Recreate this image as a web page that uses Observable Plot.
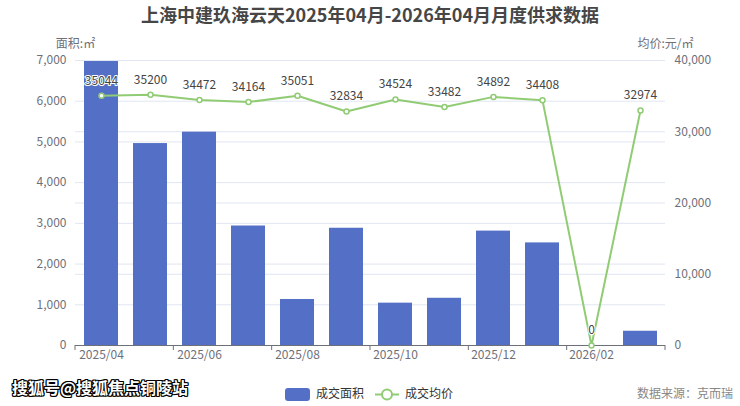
<!DOCTYPE html>
<html><head><meta charset="utf-8">
<script src="https://cdn.jsdelivr.net/npm/d3@7"></script>
<script src="https://cdn.jsdelivr.net/npm/@observablehq/plot@0.6"></script>
<style>
body{margin:0;background:#fff;}
#wrap{position:relative;width:740px;height:406px;font-family:"Noto Sans CJK SC","Noto Sans",sans-serif;}
#wrap svg{position:absolute;left:0;top:0;}
.abs{position:absolute;white-space:nowrap;line-height:1;}
</style></head>
<body><div id="wrap"></div>
<script>
const titleText = "上海中建玖海云天2025年04月-2026年04月月度供求数据";
const months = ["2025/04","2025/05","2025/06","2025/07","2025/08","2025/09","2025/10","2025/11","2025/12","2026/01","2026/02","2026/03"];
const area = [6975,4960,5240,2935,1130,2880,1040,1160,2810,2520,0,350];
const price = [35044,35200,34472,34164,35051,32834,34524,33482,34892,34408,0,32974];
const areaTicks = [0,1000,2000,3000,4000,5000,6000,7000];
const priceTicks = [0,10000,20000,30000,40000];
const xLabels = ["2025/04","2025/06","2025/08","2025/10","2025/12","2026/02"];
const seriesNames = ["成交面积","成交均价"];
const yNameLeft = "面积:㎡";
const yNameRight = "均价:元/㎡";
const sourceText = "数据来源：克而瑞";
const watermark = "搜狐号@搜狐焦点铜陵站";

const BLUE = "#5470c6", GREEN = "#91cc75", GRID = "#e0e6f1", AXIS = "#6e7079";
const k = areaTicks[areaTicks.length-1] / priceTicks[priceTicks.length-1];
const data = months.map((m,i)=>({month:m, area:area[i], price:price[i], p:price[i]*k}));
const fmt = d3.format(",");

function xTicks(index, scales, values, dims) {
  const n = months.length;
  const step = (dims.width - dims.marginLeft - dims.marginRight) / n;
  const y0 = dims.height - dims.marginBottom;
  const g = d3.create("svg:g").attr("stroke", AXIS);
  for (let i = 0; i <= n; i += 2) {
    const x = dims.marginLeft + i * step;
    g.append("line").attr("x1", x).attr("x2", x).attr("y1", y0).attr("y2", y0 + 5);
  }
  return g.node();
}

const plot = Plot.plot({
  width: 740, height: 406,
  marginTop: 60, marginBottom: 61, marginLeft: 75, marginRight: 75,
  style: {fontFamily: '"Noto Sans CJK SC","Noto Sans",sans-serif', fontSize: "12px", color: AXIS, background: "transparent", overflow: "visible"},
  x: {type: "band", domain: months, paddingInner: 0.31, paddingOuter: 0.155, axis: null, label: null},
  y: {domain: [0, 7000], axis: null, label: null},
  marks: [
    Plot.ruleY(areaTicks, {stroke: GRID}),
    Plot.ruleY(priceTicks.map(p => p * k), {stroke: GRID}),
    Plot.barY(data, {x: "month", y: "area", fill: BLUE}),
    Plot.ruleY([0], {stroke: AXIS}),
    xTicks,
    Plot.axisX(xLabels, {tickSize: 0, tickPadding: 5, fill: AXIS, fontSize: 12, label: null}),
    Plot.axisY(areaTicks, {anchor: "left", tickSize: 0, tickPadding: 9, tickFormat: fmt, fill: AXIS, fontSize: 12, label: null}),
    Plot.axisY(priceTicks.map(p => p * k), {anchor: "right", tickSize: 0, tickPadding: 9, tickFormat: d => fmt(Math.round(d / k)), fill: AXIS, fontSize: 12, label: null}),
    Plot.line(data, {x: "month", y: "p", stroke: GREEN, strokeWidth: 2}),
    Plot.dot(data, {x: "month", y: "p", r: 2.5, fill: "white", stroke: GREEN, strokeWidth: 1.5}),
    Plot.text(data, {x: "month", y: "p", text: d => String(d.price), dy: -15, fill: "#444", stroke: "white", strokeWidth: 2, fontSize: 12}),
    Plot.text([yNameLeft], {frameAnchor: "top-left", text: d => d, dy: -21, textAnchor: "middle", fill: AXIS, fontSize: 12}),
    Plot.text([yNameRight], {frameAnchor: "top-right", text: d => d, dy: -21, textAnchor: "middle", fill: AXIS, fontSize: 12})
  ]
});

const wrap = document.getElementById("wrap");
wrap.appendChild(plot);

function addDiv(text, css) {
  const d = document.createElement("div");
  d.className = "abs";
  d.textContent = text;
  Object.assign(d.style, css);
  wrap.appendChild(d);
  return d;
}
addDiv(titleText, {left: "0", width: "740px", textAlign: "center", top: "5px", fontSize: "18px", fontWeight: "bold", color: "#464646"});
addDiv(watermark, {left: "12px", top: "379px", fontSize: "16px", fontWeight: "bold", color: "#fff",
  textShadow: "1px 0 0 #000,-1px 0 0 #000,0 1px 0 #000,0 -1px 0 #000,1px 1px 0 #000,-1px -1px 0 #000,1px -1px 0 #000,-1px 1px 0 #000"});
addDiv(sourceText, {right: "7px", top: "387px", fontSize: "12px", color: "#888"});

// legend
const leg = d3.select(wrap).append("svg").attr("width", 740).attr("height", 406).style("pointer-events", "none")
  .style("font-family", '"Noto Sans CJK SC",sans-serif').style("font-size", "12px");
leg.append("rect").attr("x", 285).attr("y", 388).attr("width", 25).attr("height", 13).attr("rx", 3).attr("fill", BLUE);
leg.append("text").attr("x", 316).attr("y", 394.5).attr("dominant-baseline", "middle").attr("fill", "#333").text(seriesNames[0]);
leg.append("line").attr("x1", 375).attr("x2", 399).attr("y1", 394.5).attr("y2", 394.5).attr("stroke", GREEN).attr("stroke-width", 2);
leg.append("circle").attr("cx", 387).attr("cy", 394.5).attr("r", 5).attr("fill", "white").attr("stroke", GREEN).attr("stroke-width", 2);
leg.append("text").attr("x", 405).attr("y", 394.5).attr("dominant-baseline", "middle").attr("fill", "#333").text(seriesNames[1]);
</script>
</body></html>
